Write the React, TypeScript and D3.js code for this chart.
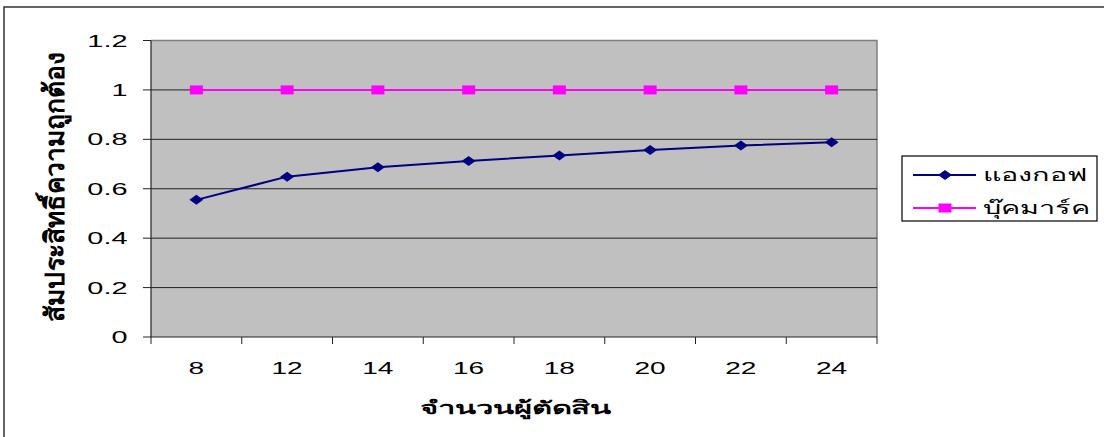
import React from "react";
import * as d3 from "d3";

const categories = ["8", "12", "14", "16", "18", "20", "22", "24"];
const angkofValues = [0.555, 0.649, 0.687, 0.712, 0.735, 0.757, 0.775, 0.788];
const bookmarkValues = [1, 1, 1, 1, 1, 1, 1, 1];
const yTicks = [0, 0.2, 0.4, 0.6, 0.8, 1, 1.2];
const seriesNames = ["แองกอฟ", "บุ๊คมาร์ค"];
const xTitle = "จำนวนผู้ตัดสิน";
const yTitle = "สัมประสิทธิ์ความถูกต้อง";

const W = 1104;
const H = 437;
const plot = { left: 151, right: 877, top: 40.5, bottom: 337 };
const FONT = "'Liberation Sans', Arial, 'Noto Sans', sans-serif";
// text in this chart is drawn horizontally widened
const SX = 1.7;

function Wide({
  x,
  y,
  sx = SX,
  children,
}: {
  x: number;
  y: number;
  sx?: number;
  children: React.ReactNode;
}) {
  return <g transform={`translate(${x},${y}) scale(${sx},1)`}>{children}</g>;
}

export default function App() {
  const x = d3
    .scaleBand<string>()
    .domain(categories)
    .range([plot.left, plot.right])
    .padding(0);
  const y = d3.scaleLinear().domain([0, 1.2]).range([plot.bottom, plot.top]);
  const cx = (c: string) => (x(c) as number) + x.bandwidth() / 2;

  const line = d3
    .line<number>()
    .x((_, i) => cx(categories[i]))
    .y((v) => y(v));

  const boundaries = categories.map((c) => x(c) as number).concat([plot.right]);

  const diamond = (px: number, py: number) =>
    `M${px - 7},${py} L${px},${py - 5} L${px + 7},${py} L${px},${py + 5} Z`;

  const navy = "#000080";
  const magenta = "#FF00FF";

  return (
    <svg
      width={W}
      height={H}
      style={{ position: "absolute", left: 0, top: 0, background: "#fff" }}
      fontFamily={FONT}
    >
      {/* chart frame */}
      <rect x={4} y={7} width={1120} height={460} fill="#fff" stroke="#333" strokeWidth={1.5} />

      {/* plot area */}
      <rect
        x={plot.left}
        y={plot.top}
        width={plot.right - plot.left}
        height={plot.bottom - plot.top}
        fill="#C0C0C0"
      />
      <path
        d={`M${plot.left},${plot.top} H${plot.right} V${plot.bottom}`}
        fill="none"
        stroke="#808080"
        strokeWidth={1.5}
      />

      {/* gridlines */}
      {yTicks.slice(1, -1).map((t) => (
        <line
          key={"g" + t}
          x1={plot.left}
          x2={plot.right}
          y1={y(t)}
          y2={y(t)}
          stroke="#222"
          strokeWidth={1}
        />
      ))}

      {/* y axis */}
      <line x1={plot.left} x2={plot.left} y1={plot.top} y2={plot.bottom} stroke="#222" strokeWidth={1.2} />
      {yTicks.map((t) => (
        <g key={"y" + t}>
          <line x1={plot.left - 8} x2={plot.left} y1={y(t)} y2={y(t)} stroke="#222" strokeWidth={1} />
          <Wide x={127.5} y={y(t)}>
            <text x={0} y={0} dy="0.36em" textAnchor="end" fontSize={17} fill="#000">
              {d3.format("")(t)}
            </text>
          </Wide>
        </g>
      ))}

      {/* x axis */}
      <line x1={plot.left} x2={plot.right} y1={plot.bottom} y2={plot.bottom} stroke="#222" strokeWidth={1.2} />
      {boundaries.map((b, i) => (
        <line key={"xt" + i} x1={b} x2={b} y1={plot.bottom} y2={plot.bottom + 7} stroke="#222" strokeWidth={1} />
      ))}
      {categories.map((c) => (
        <Wide key={"xl" + c} x={cx(c)} y={374}>
          <text x={0} y={0} textAnchor="middle" fontSize={16.5} fill="#000">
            {c}
          </text>
        </Wide>
      ))}

      {/* axis titles */}
      <Wide x={515} y={414} sx={1.72}>
        <text x={0} y={0} textAnchor="middle" fontSize={18} fontWeight="bold" fill="#000">
          {xTitle}
        </text>
      </Wide>
      <g transform={`translate(54, ${(52 + 322) / 2}) scale(1.5,1) rotate(-90)`}>
        <text
          x={0}
          y={0}
          dy="0.36em"
          textAnchor="middle"
          fontSize={18}
          fontWeight="bold"
          fill="#000"
          textLength={270}
          lengthAdjust="spacingAndGlyphs"
        >
          {yTitle}
        </text>
      </g>

      {/* series */}
      <path d={line(angkofValues) || ""} fill="none" stroke={navy} strokeWidth={2} />
      <path d={line(bookmarkValues) || ""} fill="none" stroke={magenta} strokeWidth={2} />
      {angkofValues.map((v, i) => (
        <path key={"d" + i} d={diamond(cx(categories[i]), y(v))} fill={navy} />
      ))}
      {bookmarkValues.map((v, i) => (
        <rect
          key={"s" + i}
          x={cx(categories[i]) - 6.5}
          y={y(v) - 4.5}
          width={13}
          height={9}
          fill={magenta}
        />
      ))}

      {/* legend */}
      <rect x={902} y={156} width={195} height={65} fill="#fff" stroke="#000" strokeWidth={1.2} />
      {seriesNames.map((name, i) => {
        const ly = 175 + i * 33;
        const color = i === 0 ? navy : magenta;
        return (
          <g key={"lg" + i}>
            <line x1={913} x2={976} y1={ly} y2={ly} stroke={color} strokeWidth={2} />
            {i === 0 ? (
              <path d={diamond(945, ly)} fill={navy} />
            ) : (
              <rect x={945 - 6.5} y={ly - 4.5} width={13} height={9} fill={magenta} />
            )}
            <Wide x={983} y={ly} sx={1.6}>
              <text x={0} y={0} dy="0.36em" fontSize={18} fill="#000">
                {name}
              </text>
            </Wide>
          </g>
        );
      })}
    </svg>
  );
}
